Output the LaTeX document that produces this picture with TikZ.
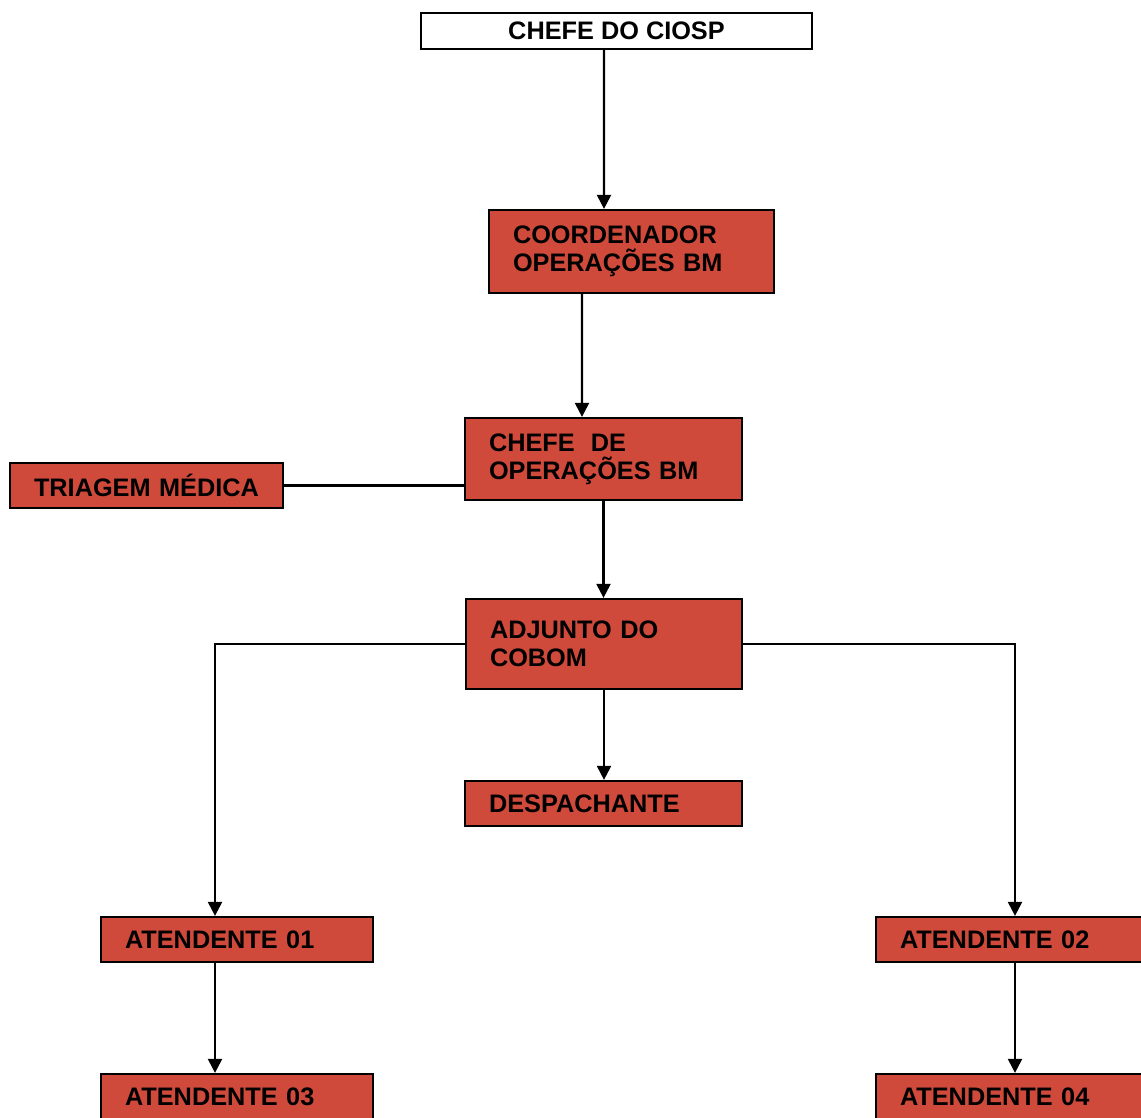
\documentclass[tikz,border=0pt]{standalone}
\usepackage{fontspec}
\setmainfont{Liberation Sans}
\usepackage{xcolor}
\usetikzlibrary{arrows.meta,positioning}

\definecolor{cargored}{RGB}{208,74,60}

\begin{document}
\begin{tikzpicture}[
  cargo/.style={rectangle, draw=black, fill=cargored, line width=1.3pt,
                font=\bfseries\fontsize{14.4}{16}\selectfont, align=left,
                inner xsep=0.48cm, inner ysep=0pt},
  chefia/.style={rectangle, draw=black, fill=white, line width=1.3pt,
                 minimum width=7.82cm, minimum height=0.72cm,
                 font=\bfseries\fontsize{14.4}{16}\selectfont},
  arr/.style={-{Triangle[length=0.28cm, width=0.28cm]}, line width=1.3pt},
  lig/.style={line width=1.3pt},
]
\useasboundingbox (0,0) rectangle (22.82,-22.36);

% Chefia
\node[chefia] (ciosp) at (12.33,-0.62) {CHEFE DO CIOSP};

% Coluna central
\node[cargo, text width=4.74cm, minimum height=1.66cm] (coord) at (12.63,-5.03)
  {COORDENADOR\\OPERAÇÕES BM};
\node[cargo, text width=4.58cm, minimum height=1.64cm] (chefe) at (12.07,-9.18)
  {CHEFE\hspace{0.3em} DE\\OPERAÇÕES BM};
\node[cargo, text width=4.56cm, minimum height=1.8cm] (adjunto) at (12.08,-12.88)
  {ADJUNTO DO\\COBOM};
\node[cargo, text width=4.58cm, minimum height=0.9cm] (desp) at (12.07,-16.07)
  {DESPACHANTE};

% Triagem
\node[cargo, text width=4.5cm, minimum height=0.9cm] (triagem) at (2.93,-9.71)
  {TRIAGEM MÉDICA};

% Atendentes
\node[cargo, text width=4.48cm, minimum height=0.9cm] (at01) at (4.74,-18.79) {ATENDENTE 01};
\node[cargo, text width=4.56cm, minimum height=0.9cm] (at02) at (20.28,-18.79) {ATENDENTE 02};
\node[cargo, text width=4.48cm, minimum height=0.9cm] (at03) at (4.74,-21.93) {ATENDENTE 03};
\node[cargo, text width=4.56cm, minimum height=0.9cm] (at04) at (20.28,-21.93) {ATENDENTE 04};

% Ligacoes
\draw[arr] ([xshift=-0.25cm]ciosp.south) -- ([xshift=-0.55cm]coord.north);
\draw[arr] ([xshift=-0.99cm]coord.south) -- ([xshift=-0.43cm]chefe.north);
\draw[arr] (chefe.south) -- (chefe.south |- adjunto.north);
\draw[lig] (triagem.east) -- (triagem.east -| chefe.west);
\draw[arr] (adjunto.south) -- (adjunto.south |- desp.north);
\draw[arr] (adjunto.west) -| ([xshift=-0.44cm]at01.north);
\draw[arr] (adjunto.east) -| ([xshift=0.02cm]at02.north);
\draw[arr] ([xshift=-0.44cm]at01.south) -- ([xshift=-0.44cm]at03.north);
\draw[arr] ([xshift=0.02cm]at02.south) -- ([xshift=0.02cm]at04.north);

\end{tikzpicture}
\end{document}
